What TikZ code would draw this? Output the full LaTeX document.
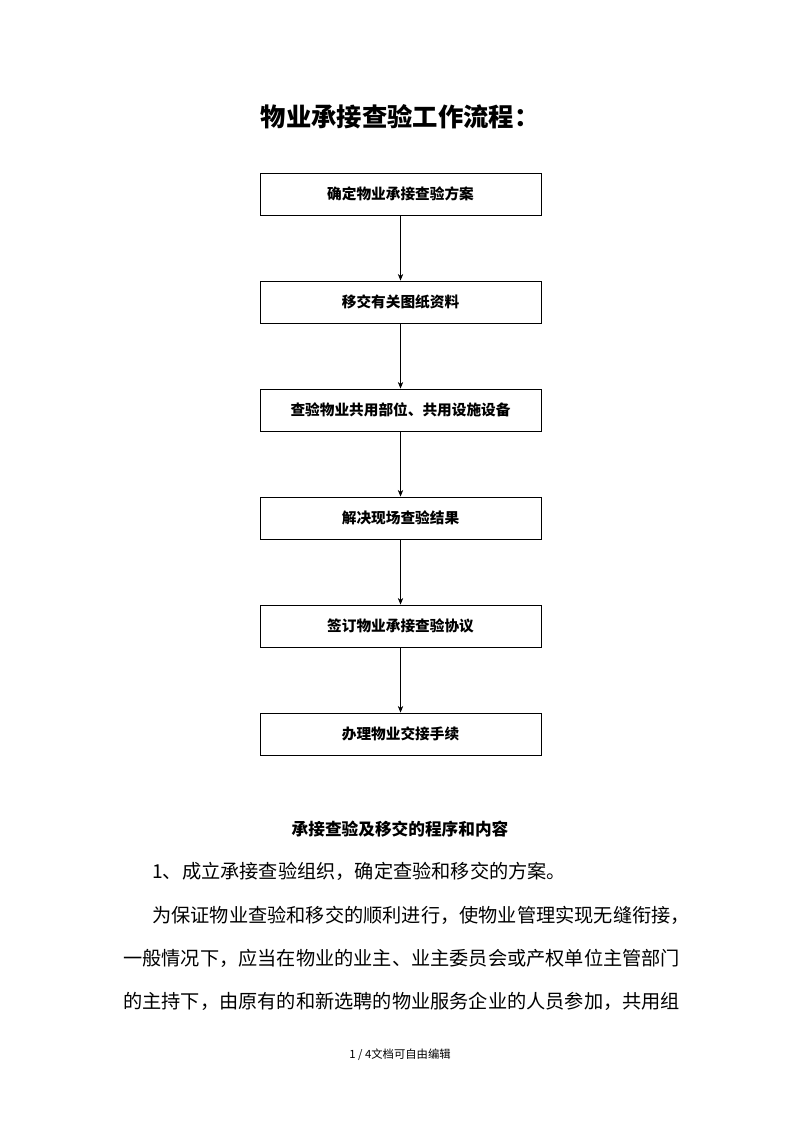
\documentclass[tikz,border=0pt]{standalone}
\usepackage{fontspec}
\setmainfont{Noto Sans CJK SC}
\newfontfamily\cjk{Noto Sans CJK SC}
\usetikzlibrary{arrows.meta}
\begin{document}
\begin{tikzpicture}[x=0.75pt,y=-0.75pt,
  stepbox/.style={draw,line width=0.6pt,minimum width=210.75pt,minimum height=31.5pt,inner sep=0pt,font=\bfseries\fontsize{11}{13}\selectfont},
  conn/.style={-{Stealth[length=5pt,width=4pt]},line width=0.5pt},
  body/.style={anchor=west,inner sep=0pt,font=\fontsize{14.4}{16}\selectfont}]
\fill[white] (0,0) rectangle (800,1132);
\node[font=\bfseries\fontsize{19}{22}\selectfont] (title) at (400,117) {物业承接查验工作流程：};
\node[stepbox] (b1) at (400.5,194) {确定物业承接查验方案};
\node[stepbox] (b2) at (400.5,302) {移交有关图纸资料};
\node[stepbox] (b3) at (400.5,410) {查验物业共用部位、共用设施设备};
\node[stepbox] (b4) at (400.5,518) {解决现场查验结果};
\node[stepbox] (b5) at (400.5,626) {签订物业承接查验协议};
\node[stepbox] (b6) at (400.5,734) {办理物业交接手续};
\draw[conn] (b1) -- (b2);
\draw[conn] (b2) -- (b3);
\draw[conn] (b3) -- (b4);
\draw[conn] (b4) -- (b5);
\draw[conn] (b5) -- (b6);
\node[font=\bfseries\fontsize{12.5}{14}\selectfont] (sub) at (400,829) {承接查验及移交的程序和内容};
\node[body] (l1) at (152,871) {1、成立承接查验组织，确定查验和移交的方案。};
\node[body] (l2) at (152,915) {为保证物业查验和移交的顺利进行，使物业管理实现无缝衔接，};
\node[body] (l3) at (123,958) {一般情况下，应当在物业的业主、业主委员会或产权单位主管部门};
\node[body] (l4) at (123,1001) {的主持下，由原有的和新选聘的物业服务企业的人员参加，共用组};
\node[font=\fontsize{8.5}{10}\selectfont] (foot) at (400,1055) {1 / 4文档可自由编辑};
\end{tikzpicture}
\end{document}
